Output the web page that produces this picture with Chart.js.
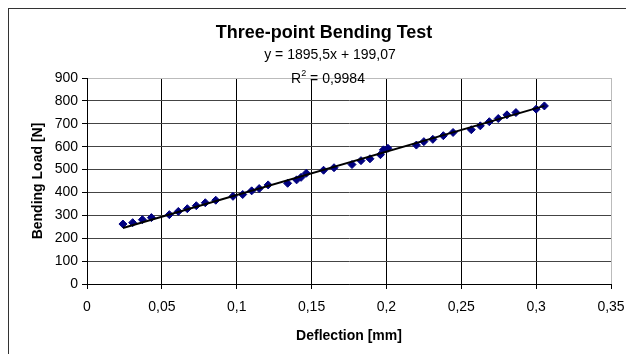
<!DOCTYPE html>
<html>
<head>
<meta charset="utf-8">
<script src="https://cdn.jsdelivr.net/npm/chart.js@4"></script>
<style>
    html, body { margin: 0; padding: 0; background: #fff; }
    #wrap { width: 626px; height: 354px; position: relative; }
</style>
</head>
<body>
<div id="wrap"><canvas id="bendChart" width="626" height="354"></canvas></div>
<script>
// Datos
const deflection = [0.024, 0.0305, 0.037, 0.043, 0.055, 0.061, 0.067, 0.073, 0.079, 0.086,
    0.0975, 0.104, 0.110, 0.115, 0.121, 0.134, 0.140, 0.143, 0.1465, 0.158,
    0.165, 0.177, 0.183, 0.189, 0.196, 0.198, 0.201, 0.220, 0.225, 0.231,
    0.238, 0.2445, 0.2567, 0.2627, 0.2687, 0.2747, 0.2805, 0.2865, 0.300, 0.3055];
const bendingLoad = [262, 268, 281, 290, 303, 317, 329, 342, 355, 366,
    383, 391, 407, 417, 433, 440, 455, 466, 484, 497,
    508, 522, 539, 547, 565, 586, 593, 607, 622, 632,
    648, 662, 674, 691, 709, 723, 739, 749, 764, 778];
const xTickLabels = ['0', '0,05', '0,1', '0,15', '0,2', '0,25', '0,3', '0,35'];
const yTickLabels = ['0', '100', '200', '300', '400', '500', '600', '700', '800', '900'];
const trendSlope = 1895.5;
const trendIntercept = 199.07;

const FONT = '"Liberation Sans", Arial, sans-serif';

const puntos = deflection.map((x, i) => ({ x: x, y: bendingLoad[i] }));
const xMin = Math.min(...deflection);
const xMax = Math.max(...deflection);
const tendencia = [
    { x: xMin, y: trendSlope * xMin + trendIntercept },
    { x: xMax, y: trendSlope * xMax + trendIntercept }
];

// Título, ecuación y marco exterior
const textosPlugin = {
    id: 'textos',
    beforeDraw(chart) {
        const ctx = chart.ctx;
        ctx.save();
        ctx.fillStyle = '#fff';
        ctx.fillRect(0, 0, chart.width, chart.height);
        ctx.strokeStyle = '#333';
        ctx.lineWidth = 1;
        ctx.strokeRect(8.5, 8.5, 700, 400);
        ctx.restore();
    },
    afterDraw(chart) {
        const ctx = chart.ctx;
        ctx.save();
        ctx.fillStyle = '#000';
        ctx.textAlign = 'center';
        ctx.textBaseline = 'middle';
        ctx.font = 'bold 18px ' + FONT;
        ctx.fillText('Three-point Bending Test', 324, 33);
        ctx.font = '14px ' + FONT;
        ctx.fillText('y = 1895,5x + 199,07', 330, 55);

        // R² con superíndice
        const resto = ' = 0,9984';
        ctx.font = '14px ' + FONT;
        const wR = ctx.measureText('R').width;
        const wResto = ctx.measureText(resto).width;
        ctx.font = '9px ' + FONT;
        const w2 = ctx.measureText('2').width;
        let x = 328 - (wR + w2 + wResto) / 2;
        ctx.textAlign = 'left';
        ctx.font = '14px ' + FONT;
        ctx.fillText('R', x, 79);
        x += wR;
        ctx.font = '9px ' + FONT;
        ctx.fillText('2', x, 74);
        x += w2;
        ctx.font = '14px ' + FONT;
        ctx.fillText(resto, x, 79);
        ctx.restore();
    }
};

const ctx = document.getElementById('bendChart').getContext('2d');

new Chart(ctx, {
    type: 'scatter',
    data: {
        datasets: [
            {
                type: 'line',
                label: 'Lineal',
                data: tendencia,
                borderColor: '#000',
                borderWidth: 2,
                pointRadius: 0,
                fill: false,
                tension: 0
            },
            {
                label: 'Load',
                data: puntos,
                pointStyle: 'rectRot',
                pointRadius: 4,
                pointHoverRadius: 4,
                backgroundColor: '#000080',
                borderColor: '#000080',
                borderWidth: 1
            }
        ]
    },
    options: {
        responsive: false,
        animation: false,
        layout: {
            padding: { left: 26, top: 78, right: 15, bottom: 5 }
        },
        plugins: {
            legend: { display: false },
            tooltip: { enabled: false }
        },
        scales: {
            x: {
                type: 'linear',
                min: 0,
                max: 0.35,
                afterFit: function(scale) {
                    scale.height = 65;
                    scale.paddingRight = 0;
                    scale.paddingLeft = 0;
                },
                ticks: {
                    stepSize: 0.05,
                    color: '#000',
                    padding: 10,
                    maxRotation: 0,
                    font: { family: FONT, size: 14 },
                    callback: function(value, index) {
                        return xTickLabels[index];
                    }
                },
                grid: {
                    color: function(c) {
                        return c.tick && c.tick.value > 0.349 ? '#bbb' : '#000';
                    },
                    tickColor: '#000',
                    tickLength: 5,
                    lineWidth: 1
                },
                border: { display: true, color: '#000', width: 1 },
                title: {
                    display: true,
                    text: 'Deflection [mm]',
                    color: '#000',
                    font: { family: FONT, size: 14, weight: 'bold' }
                }
            },
            y: {
                min: 0,
                max: 900,
                afterFit: function(scale) {
                    scale.width = 61;
                    scale.paddingTop = 0;
                    scale.paddingBottom = 0;
                },
                ticks: {
                    stepSize: 100,
                    color: '#000',
                    padding: 4,
                    font: { family: FONT, size: 14 },
                    callback: function(value, index) {
                        return yTickLabels[index];
                    }
                },
                grid: {
                    color: function(c) {
                        return c.tick && c.tick.value >= 900 ? '#bbb' : '#444';
                    },
                    tickColor: '#000',
                    tickLength: 5,
                    lineWidth: 1
                },
                border: { display: true, color: '#000', width: 1 },
                title: {
                    display: true,
                    text: 'Bending Load [N]',
                    color: '#000',
                    font: { family: FONT, size: 14, weight: 'bold' }
                }
            }
        }
    },
    plugins: [textosPlugin]
});
</script>
</body>
</html>
